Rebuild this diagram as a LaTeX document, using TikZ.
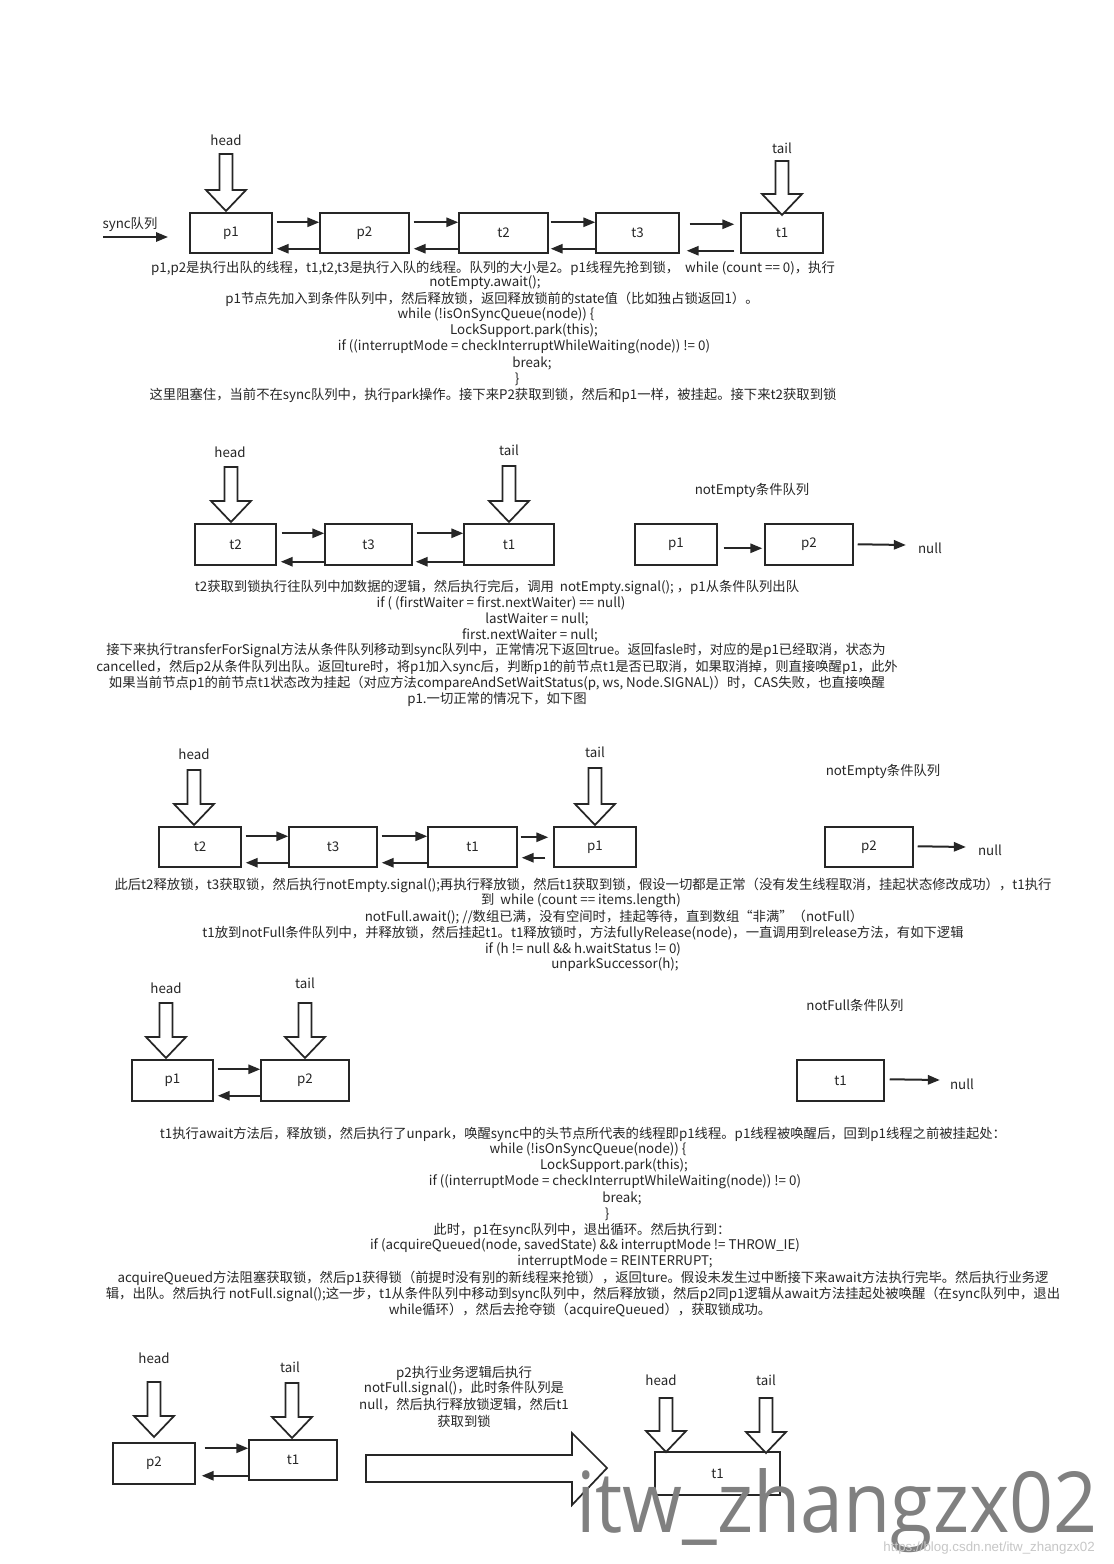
\documentclass[tikz,border=0pt]{standalone}
\usepackage{fontspec}
\usepackage{graphicx}
\newfontfamily\cjk{Noto Sans CJK SC}
\newfontfamily\wmfont{Open Sans}
\newfontfamily\urlfont{Liberation Sans}
\usetikzlibrary{arrows.meta,calc}
\definecolor{ink}{HTML}{262626}
\tikzset{
  txt/.style={font=\cjk\fontsize{10}{12}\selectfont, inner sep=0pt, text=ink},
  lbl/.style={font=\cjk\fontsize{10}{12}\selectfont, inner sep=0pt, text=ink},
  qbox/.style={draw=ink, line width=1.1pt, fill=white, inner sep=0pt, font=\cjk\fontsize{10}{12}\selectfont, text=ink},
  link/.style={draw=ink, line width=1.5pt, -{Triangle[length=9pt,width=7pt]}},
  hollow/.style={draw=ink, line width=1.3pt, fill=white, line join=miter},
}
\newcommand\qnode[6]{\node[qbox, minimum width={(#4-#2)*0.75pt}, minimum height={(#5-#3)*0.75pt}] (#1) at ({(#2+#4)/2},{(#3+#5)/2}) {#6};}
\newcommand\hdown[3]{\draw[hollow] ({#1-6.5},#2) -- ({#1+6.5},#2) -- ({#1+6.5},{#3-21}) -- ({#1+20},{#3-21}) -- (#1,#3) -- ({#1-20},{#3-21}) -- ({#1-6.5},{#3-21}) -- cycle;}
\begin{document}
\begin{tikzpicture}[x=0.75pt,y=-0.75pt]
\fill[white] (0,0) rectangle (1114,1564);
\useasboundingbox (0,0) rectangle (1114,1564);

% ---------------- diagram 1 ----------------
\node[lbl] (s1) at (130,224) {sync队列};
\coordinate (s1a) at (103,237);
\coordinate (s1b) at (168,237);
\draw[link] (s1a) -- (s1b);
\qnode{a1}{190}{213}{272}{253}{p1}
\qnode{a2}{320}{213}{409}{253}{p2}
\qnode{a3}{459}{213}{548}{253}{t2}
\qnode{a4}{596}{213}{679}{253}{t3}
\qnode{a5}{741}{213}{823}{253}{t1}
\draw[link] ($(a1.north east)+(4,10)$) -- ($(a2.north west)+(0,10)$);
\draw[link] ($(a2.south west)+(0,-5)$) -- ($(a1.south east)+(4,-5)$);
\draw[link] ($(a2.north east)+(4,10)$) -- ($(a3.north west)+(0,10)$);
\draw[link] ($(a3.south west)+(0,-5)$) -- ($(a2.south east)+(4,-5)$);
\draw[link] ($(a3.north east)+(2,10)$) -- ($(a4.north west)+(0,10)$);
\draw[link] ($(a4.south west)+(0,-5)$) -- ($(a3.south east)+(2,-5)$);
\draw[link] ($(a4.north east)+(10,12)$) -- ($(a5.north west)+(-6,12)$);
\draw[link] ($(a5.south west)+(-6,-3)$) -- ($(a4.south east)+(7,-3)$);
\node[lbl] (h1) at (226,140) {head};
\hdown{226}{154}{211}
\node[lbl] (tl1) at (782,148) {tail};
\hdown{782}{161}{215}

\node[txt] (l101) at (493,268) {p1,p2是执行出队的线程，t1,t2,t3是执行入队的线程。队列的大小是2。p1线程先抢到锁，\ \ while (count == 0)，执行};
\node[txt] (l102) at (485,283) {notEmpty.await();};
\node[txt] (l103) at (492,299) {p1节点先加入到条件队列中，然后释放锁，返回释放锁前的state值（比如独占锁返回1）。};
\node[txt] (l104) at (496,315) {while (!isOnSyncQueue(node)) \{};
\node[txt] (l105) at (524,331) {LockSupport.park(this);};
\node[txt] (l106) at (524,347) {if ((interruptMode = checkInterruptWhileWaiting(node)) != 0)};
\node[txt] (l107) at (532,363) {break;};
\node[txt] (l108) at (517,379) {\}};
\node[txt] (l109) at (493,395) {这里阻塞住，当前不在sync队列中，执行park操作。接下来P2获取到锁，然后和p1一样，被挂起。接下来t2获取到锁};

% ---------------- diagram 2 ----------------
\qnode{b1}{195}{524}{276}{565}{t2}
\qnode{b2}{325}{524}{412}{565}{t3}
\qnode{b3}{464}{524}{554}{565}{t1}
\draw[link] ($(b1.north east)+(5,10)$) -- ($(b2.north west)+(0,10)$);
\draw[link] ($(b2.south west)+(0,-4)$) -- ($(b1.south east)+(4,-4)$);
\draw[link] ($(b2.north east)+(4,10)$) -- ($(b3.north west)+(0,10)$);
\draw[link] ($(b3.south west)+(0,-4)$) -- ($(b2.south east)+(3,-4)$);
\node[lbl] (h2) at (230,452) {head};
\hdown{231}{467}{522}
\node[lbl] (tl2) at (509,450) {tail};
\hdown{509}{466}{522}
\node[lbl] (ne2) at (752,490) {notEmpty条件队列};
\qnode{c1}{635}{524}{717}{565}{p1}
\qnode{c2}{765}{524}{853}{565}{p2}
\draw[link] ($(c1.north east)+(6,25)$) -- ($(c2.north west)+(-2,25)$);
\node[lbl] (n2) at (930,548) {null};
\draw[link] ($(c2.north east)+(4,21)$) -- ($(n2.west)+(-12,-3)$);

\node[txt] (l201) at (497,587) {t2获取到锁执行往队列中加数据的逻辑，然后执行完后，调用\ \ notEmpty.signal();\ ，p1从条件队列出队};
\node[txt] (l202) at (501,603) {if ( (firstWaiter = first.nextWaiter) == null)};
\node[txt] (l203) at (537,619) {lastWaiter = null;};
\node[txt] (l204) at (530,635) {first.nextWaiter = null;};
\node[txt] (l205) at (496,651) {接下来执行transferForSignal方法从条件队列移动到sync队列中，正常情况下返回true。返回fasle时，对应的是p1已经取消，状态为};
\node[txt] (l206) at (497,667) {cancelled，然后p2从条件队列出队。返回ture时，将p1加入sync后，判断p1的前节点t1是否已取消，如果取消掉，则直接唤醒p1，此外};
\node[txt] (l207) at (497,683) {如果当前节点p1的前节点t1状态改为挂起（对应方法compareAndSetWaitStatus(p, ws, Node.SIGNAL)）时，CAS失败，也直接唤醒};
\node[txt] (l208) at (497,699) {p1.一切正常的情况下，如下图};

% ---------------- diagram 3 ----------------
\qnode{d1}{159}{827}{241}{867}{t2}
\qnode{d2}{289}{827}{377}{867}{t3}
\qnode{d3}{428}{827}{517}{867}{t1}
\qnode{d4}{554}{827}{636}{867}{p1}
\draw[link] ($(d1.north east)+(4,10)$) -- ($(d2.north west)+(0,10)$);
\draw[link] ($(d2.south west)+(0,-5)$) -- ($(d1.south east)+(4,-5)$);
\draw[link] ($(d2.north east)+(4,10)$) -- ($(d3.north west)+(0,10)$);
\draw[link] ($(d3.south west)+(0,-5)$) -- ($(d2.south east)+(4,-5)$);
\draw[link] ($(d3.north east)+(3,11)$) -- ($(d4.north west)+(-5,11)$);
\draw[link] ($(d4.south west)+(-8,-10)$) -- ($(d3.south east)+(4,-10)$);
\node[lbl] (h3) at (194,754) {head};
\hdown{194}{770}{825}
\node[lbl] (tl3) at (595,752) {tail};
\hdown{595}{768}{825}
\node[lbl] (ne3) at (883,771) {notEmpty条件队列};
\qnode{e1}{825}{827}{913}{867}{p2}
\node[lbl] (n3) at (990,850) {null};
\draw[link] ($(e1.north east)+(4,20)$) -- ($(n3.west)+(-12,-3)$);

\node[txt] (l301) at (583,885) {此后t2释放锁，t3获取锁，然后执行notEmpty.signal();再执行释放锁，然后t1获取到锁，假设一切都是正常（没有发生线程取消，挂起状态修改成功），t1执行};
\node[txt] (l302) at (581,901) {到\ \ while (count == items.length)};
\node[txt] (l303) at (614,917) {notFull.await(); //数组已满，没有空间时，挂起等待，直到数组“非满”（notFull）};
\node[txt] (l304) at (583,933) {t1放到notFull条件队列中，并释放锁，然后挂起t1。t1释放锁时，方法fullyRelease(node)，一直调用到release方法，有如下逻辑};
\node[txt] (l305) at (583,949) {if (h != null \&\& h.waitStatus != 0)};
\node[txt] (l306) at (615,965) {unparkSuccessor(h);};

% ---------------- diagram 4 ----------------
\qnode{f1}{132}{1060}{213}{1101}{p1}
\qnode{f2}{261}{1060}{349}{1101}{p2}
\draw[link] ($(f1.north east)+(4,10)$) -- ($(f2.north west)+(0,10)$);
\draw[link] ($(f2.south west)+(0,-6)$) -- ($(f1.south east)+(4,-6)$);
\node[lbl] (h4) at (166,988) {head};
\hdown{166}{1003}{1058}
\node[lbl] (tl4) at (305,983) {tail};
\hdown{305}{1003}{1058}
\node[lbl] (nf4) at (855,1005) {notFull条件队列};
\qnode{g1}{797}{1060}{884}{1101}{t1}
\node[lbl] (n4) at (962,1084) {null};
\draw[link] ($(g1.north east)+(5,20)$) -- ($(n4.west)+(-10,-4)$);

\node[txt] (l401) at (583,1134) {t1执行await方法后，释放锁，然后执行了unpark，唤醒sync中的头节点所代表的线程即p1线程。p1线程被唤醒后，回到p1线程之前被挂起处：};
\node[txt] (l402) at (588,1150) {while (!isOnSyncQueue(node)) \{};
\node[txt] (l403) at (614,1166) {LockSupport.park(this);};
\node[txt] (l404) at (615,1182) {if ((interruptMode = checkInterruptWhileWaiting(node)) != 0)};
\node[txt] (l405) at (622,1198) {break;};
\node[txt] (l406) at (607,1214) {\}};
\node[txt] (l407) at (582,1230) {此时，p1在sync队列中，退出循环。然后执行到：};
\node[txt] (l408) at (585,1246) {if (acquireQueued(node, savedState) \&\& interruptMode != THROW\_IE)};
\node[txt] (l409) at (615,1262) {interruptMode = REINTERRUPT;};
\node[txt] (l410) at (583,1278) {acquireQueued方法阻塞获取锁，然后p1获得锁（前提时没有别的新线程来抢锁），返回ture。假设未发生过中断接下来await方法执行完毕。然后执行业务逻};
\node[txt] (l411) at (583,1294) {辑，出队。然后执行 notFull.signal();这一步，t1从条件队列中移动到sync队列中，然后释放锁，然后p2同p1逻辑从await方法挂起处被唤醒（在sync队列中，退出};
\node[txt] (l412) at (580,1310) {while循环），然后去抢夺锁（acquireQueued），获取锁成功。};

% ---------------- diagram 5 ----------------
\qnode{k1}{113}{1443}{195}{1484}{p2}
\qnode{k2}{249}{1440}{337}{1480}{t1}
\draw[link] ($(k1.north east)+(9,6)$) -- ($(k2.north west)+(0,9)$);
\draw[link] ($(k2.south west)+(0,-5)$) -- ($(k1.south east)+(6,-9)$);
\node[lbl] (h5) at (154,1358) {head};
\hdown{154}{1382}{1437}
\node[lbl] (tl5) at (290,1367) {tail};
\hdown{292}{1383}{1438}
\node[txt] (m1) at (464,1373) {p2执行业务逻辑后执行};
\node[txt] (m2) at (464,1389) {notFull.signal()，此时条件队列是};
\node[txt] (m3) at (464,1405) {null，然后执行释放锁逻辑，然后t1};
\node[txt] (m4) at (464,1421) {获取到锁};
\draw[hollow] (366,1455) -- (572,1455) -- (572,1433) -- (607,1468) -- (572,1505) -- (572,1482) -- (366,1482) -- cycle;
\qnode{r1}{655}{1452}{780}{1495}{t1}
\node[lbl] (h6) at (661,1380) {head};
\hdown{666}{1398}{1452}
\node[lbl] (tl6) at (766,1380) {tail};
\hdown{766}{1398}{1453}

% ---------------- watermark ----------------
\node[anchor=base west, inner sep=0pt, text=black!50, font=\wmfont] (wm) at (576,1532) {\resizebox{391pt}{48pt}{itw\_zhangzx02}};
\node[anchor=base east, inner sep=0pt, text=black!22, font=\urlfont\fontsize{10}{12}\selectfont] (url) at (1095,1551) {https://blog.csdn.net/itw\_zhangzx02};
\end{tikzpicture}
\end{document}
